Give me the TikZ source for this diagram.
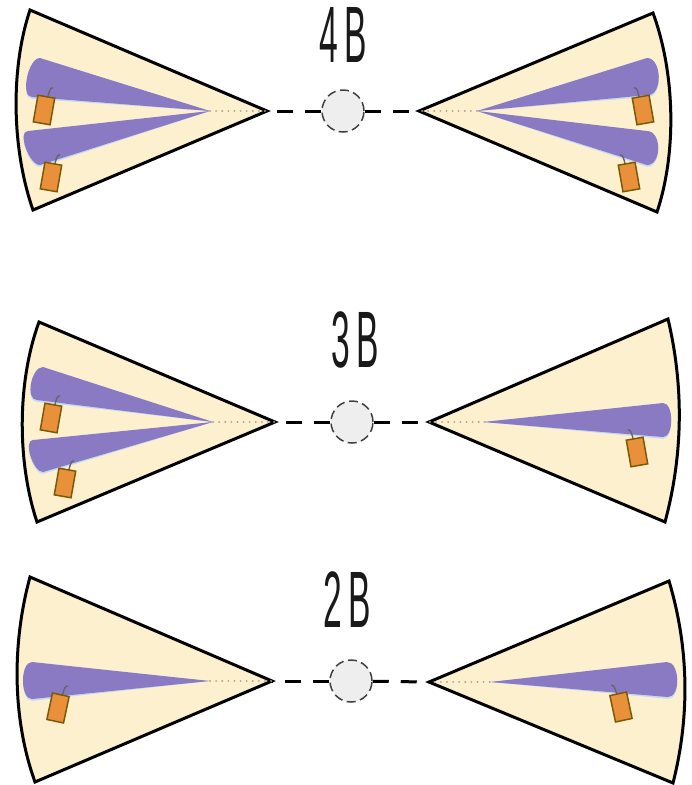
\documentclass[tikz,border=0pt]{standalone}
\usepackage{fontspec}
\newfontfamily\labelfont{Liberation Sans}
\definecolor{cream}{HTML}{FDF0CF}
\definecolor{beamc}{HTML}{8A7AC3}
\definecolor{beamedge}{HTML}{C6DAEF}
\definecolor{tagc}{HTML}{E8913A}
\definecolor{tagedge}{HTML}{7A5A06}
\definecolor{hookc}{HTML}{666666}
\definecolor{dotc}{HTML}{B0A68E}
\definecolor{hubc}{HTML}{EEEEEE}
\tikzset{
 sector/.style={fill=cream, draw=black, line width=3pt, line join=miter},
 beamfill/.style={fill=beamc},
 beamshade/.style={fill=beamedge},
 tagbox/.style={fill=tagc, draw=tagedge, line width=1.5pt},
 hook/.style={draw=hookc, line width=1.4pt},
 dots/.style={draw=dotc, line width=2pt, line cap=round, dash pattern=on 0.1pt off 6pt},
 hub/.style={circle, minimum size=42pt, inner sep=0pt, fill=hubc, draw=black!75, line width=1.5pt, dash pattern=on 9pt off 4.5pt},
 link/.style={draw=black, line width=3pt, dash pattern=on 16pt off 12pt},
 lbl/.style={inner sep=0pt, text=black!90, font=\labelfont},
}
\newcommand\mybeam[4]{%
 \begin{scope}[yshift=-1.8pt]\fill[beamshade] (#1) -- (#2) .. controls ([xshift=#4pt]#2) and ([xshift=#4pt]#3) .. (#3) -- cycle;\end{scope}
 \fill[beamfill] (#1) -- (#2) .. controls ([xshift=#4pt]#2) and ([xshift=#4pt]#3) .. (#3) -- cycle;}
\newcommand\mytag[4]{%
 \begin{scope}[shift={(#1,#2)}, rotate=#3]
 \draw[hook] (1.5*#4,-13) .. controls (2*#4,-19) and (2*#4,-23) .. (5*#4,-23.5);
 \filldraw[tagbox] (-8.5,-13.5) rectangle (8.5,13.5);
 \end{scope}}
\newcommand\lbltext[1]{\scalebox{0.42}[1]{\fontsize{80}{80}\selectfont #1}}
\begin{document}
\begin{tikzpicture}[x=1pt,y=-1pt]
\useasboundingbox (0,0) rectangle (692,785);
% ---------- row 1 : 4B ----------
\coordinate (a1l) at (267,111);
\coordinate (a1r) at (419,111);
\coordinate (p1l) at (210,111);
\coordinate (p1r) at (477,111);
\draw[sector] (a1l) -- (30,10) .. controls (10,70) and (12,150) .. (33,210) -- cycle;
\draw[sector] (a1r) -- (653,13) .. controls (675,73) and (677,152) .. (657,212) -- cycle;
\draw[dots] (p1l) -- (a1l);
\draw[dots] (p1r) -- (a1r);
\mybeam{p1l}{40,58}{32,97}{-12}
\mybeam{p1l}{28,131}{40,165}{-11}
\mybeam{p1r}{647,58}{648,95}{15}
\mybeam{p1r}{647,131}{647,165}{15}
\mytag{44}{110}{-10}{1}
\mytag{51}{177}{-10}{1}
\mytag{643}{110}{10}{-1}
\mytag{629}{177}{10}{-1}
\node[hub] (h1) at (343,111) {};
\draw[link] (h1) -- (a1l);
\draw[link] (h1) -- (a1r);
\node[lbl] (t4) at (343,35) {\lbltext{4\hspace{14pt}B}};
% ---------- row 2 : 3B ----------
\coordinate (a2l) at (275,422);
\coordinate (a2r) at (429,422);
\coordinate (p2l) at (213,422);
\coordinate (p2r) at (483,422);
\draw[sector] (a2l) -- (39,322) .. controls (17,382) and (17,462) .. (37,522) -- cycle;
\draw[sector] (a2r) -- (668,319) .. controls (684,387) and (683,455) .. (665,522) -- cycle;
\draw[dots] (p2l) -- (a2l);
\draw[dots] ([xshift=8pt]p2r) -- (a2r);
\mybeam{p2l}{43,367}{37,400}{-12}
\mybeam{p2l}{33,440}{43,472}{-10}
\mybeam{p2r}{663,403}{663,437}{11}
\mytag{51}{418}{-10}{1}
\mytag{65}{483}{-10}{1}
\mytag{637}{452}{10}{-1}
\node[hub] (h2) at (352,422) {};
\draw[link] (h2) -- (a2l);
\draw[link] (h2) -- (a2r);
\node[lbl] (t3) at (355,340) {\lbltext{3\hspace{14pt}B}};
% ---------- row 3 : 2B ----------
\coordinate (a3l) at (272,681);
\coordinate (a3r) at (429,682);
\coordinate (p3l) at (210,681);
\coordinate (p3r) at (490,682);
\draw[sector] (a3l) -- (30,577) .. controls (12,643) and (12,718) .. (35,782) -- cycle;
\draw[sector] (a3r) -- (669,581) .. controls (689,648) and (690,716) .. (673,783) -- cycle;
\draw[dots] (p3l) -- (a3l);
\draw[dots] ([xshift=18pt]p3r) -- (a3r);
\mybeam{p3l}{32,662}{32,699}{-12}
\mybeam{p3r}{667,662}{668,697}{13}
\mytag{58}{708}{-12}{1}
\mytag{621}{707}{12}{-1}
\node[hub] (h3) at (351,681) {};
\draw[link] (h3) -- (a3l);
\draw[link] (h3) -- (a3r);
\node[lbl] (t2) at (347,600) {\lbltext{2\hspace{14pt}B}};
\end{tikzpicture}
\end{document}
